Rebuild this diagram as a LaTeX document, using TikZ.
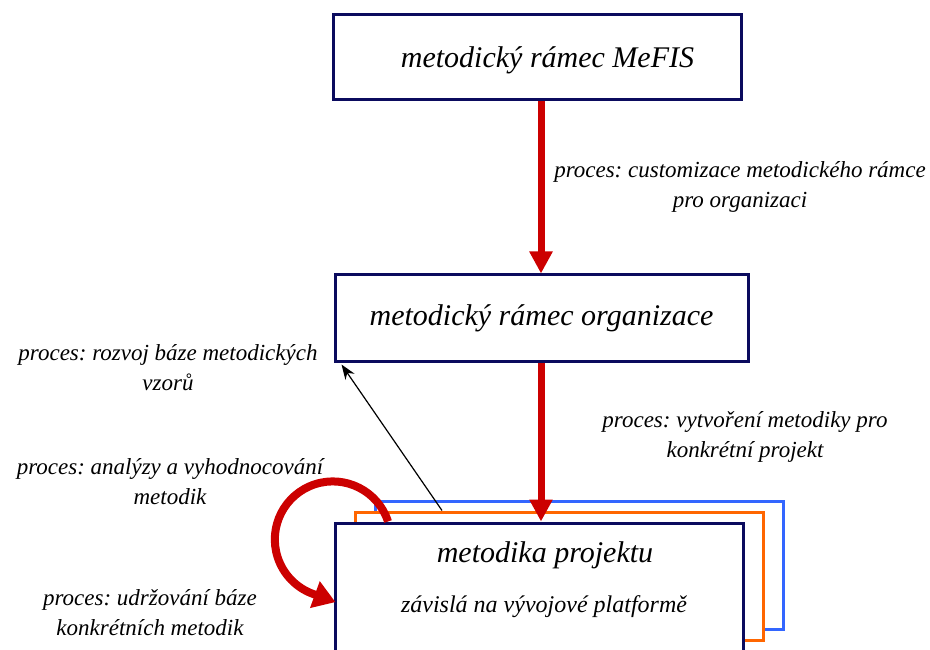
\documentclass[tikz,border=0pt]{standalone}
\usepackage{fontspec}
\setmainfont{Liberation Serif}
\usetikzlibrary{arrows.meta,calc}
\definecolor{navy}{HTML}{0B0B5E}
\definecolor{procred}{HTML}{CC0000}
\definecolor{layorange}{HTML}{FF6600}
\definecolor{layblue}{HTML}{3366FF}
\frenchspacing
\begin{document}
\begin{tikzpicture}[x=1pt,y=1pt,
  framebox/.style={draw=navy,line width=3pt,fill=white,rectangle,inner sep=0pt},
  layerbox/.style={line width=3pt,fill=white,rectangle,inner sep=0pt,
    minimum width=408pt,minimum height=128pt},
  boxtitle/.style={font=\itshape\fontsize{30}{34}\selectfont,inner sep=0pt},
  boxnote/.style={font=\itshape\fontsize{24}{28}\selectfont,inner sep=0pt},
  proclabel/.style={font=\itshape\fontsize{23}{30}\selectfont,align=center,inner sep=0pt},
  bigflow/.style={draw=procred,line width=7pt,-{Triangle[width=22pt,length=22pt]}},
  loopflow/.style={draw=procred,line width=8pt,-{Triangle[width=27pt,length=22pt]}},
  thinflow/.style={draw=black,line width=1.2pt,-{Stealth[width=11pt,length=15pt]}}]
\useasboundingbox (0,0) rectangle (930,649);

% framework boxes
\node[framebox,minimum width=408pt,minimum height=85pt] (mefis) at (537.5,592) {};
\node[boxtitle] (mefist) at ($(mefis.center)+(10,-3)$) {metodický rámec MeFIS};
\node[framebox,minimum width=413pt,minimum height=87pt,boxtitle] (org) at (541.5,330.5) {metodický rámec organizace};

% stacked project methodology boxes
\node[layerbox,draw=layblue] (blue) at (579,84) {};
\node[layerbox,draw=layorange] (orange) at (559,73) {};
\node[layerbox,draw=navy] (proj) at (539,62) {};
\node[boxtitle] (projt) at ($(proj.north)+(6,-34)$) {metodika projektu};
\node[boxnote] (projn) at ($(proj.north)+(5,-85)$) {závislá na vývojové platformě};

% flows
\coordinate (axis) at (541,0);
\draw[bigflow] (mefis.south -| axis) -- (org.north -| axis);
\draw[bigflow] (org.south -| axis) -- (proj.north -| axis);
\draw[thinflow] (orange.north -| 442,0) -- ($(org.south west)+(8,-1)$);
\coordinate (loopstart) at (proj.north -| 388,0);
\draw[loopflow] (loopstart) arc[start angle=18,end angle=250,radius=58pt] -- ++(-20:24);

% process labels
\node[proclabel] (lcust) at (740,462) {proces: customizace metodického rámce\\pro organizaci};
\node[proclabel] (lvytv) at (745,212.5) {proces: vytvoření metodiky pro\\konkrétní projekt};
\node[proclabel] (lrozv) at (168,281.5) {proces: rozvoj báze metodických\\vzorů};
\node[proclabel] (lanal) at (170,167) {proces: analýzy a vyhodnocování\\metodik};
\node[proclabel] (ludrz) at (150,36.5) {proces: udržování báze\\konkrétních metodik};
\end{tikzpicture}
\end{document}
